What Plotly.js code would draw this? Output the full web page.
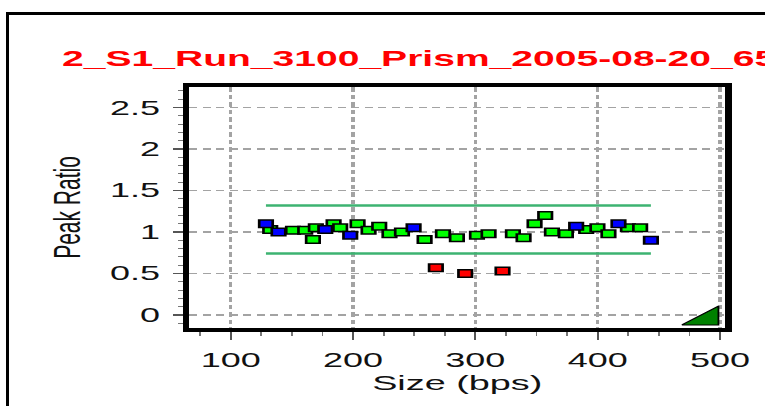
<!DOCTYPE html>
<html>
<head>
<meta charset="utf-8">
<script src="https://cdn.plot.ly/plotly-3.0.1.min.js"></script>
<style>
  html, body { margin: 0; padding: 0; width: 765px; height: 406px; overflow: hidden; background: #ffffff; }
  #frame { position: absolute; left: 6px; top: 12px; width: 900px; height: 600px; border: 3px solid #000; box-sizing: border-box; z-index: 0; }
  #chart { position: absolute; left: 0; top: 0; width: 425px; height: 406px; transform: scaleX(1.8); transform-origin: 0 0; z-index: 1; }
</style>
</head>
<body>
<div id="frame"></div>
<div id="chart"></div>
<script>
// ---- data ----
const chartTitle = "2_S1_Run_3100_Prism_2005-08-20_65";
const xTitle = "Size (bps)";
const yTitle = "Peak Ratio";

const greenSize  = [132.3, 150.9, 160.9, 167.2, 169.6, 184.1, 189.5, 203.7, 212.7, 221.4, 229.8, 240.0, 258.5, 273.5, 284.9, 301.3, 310.8, 330.7, 339.4, 348.4, 357.1, 362.6, 374.0, 390.6, 399.8, 408.8, 424.7, 434.7];
const greenRatio = [1.03, 1.02, 1.02, 0.91, 1.05, 1.10, 1.05, 1.10, 1.02, 1.07, 0.98, 1.00, 0.91, 0.98, 0.93, 0.96, 0.98, 0.98, 0.93, 1.10, 1.20, 1.00, 0.98, 1.03, 1.05, 0.98, 1.05, 1.05];

const blueSize  = [128.8, 139.1, 177.3, 197.7, 249.5, 382.4, 417.0, 443.5];
const blueRatio = [1.10, 1.00, 1.03, 0.96, 1.05, 1.07, 1.10, 0.90];

const redSize  = [267.7, 291.7, 322.2];
const redRatio = [0.57, 0.50, 0.53];

const limitSize  = [128.8, 443.5];
const upperLimit = [1.32, 1.32];
const lowerLimit = [0.74, 0.74];

const triSize  = [468.8, 498.7, 498.7, 468.8];
const triRatio = [-0.12, 0.108, -0.12, -0.12];

const xTickVals = [100, 200, 300, 400, 500];
const yTickVals = [0, 0.5, 1, 1.5, 2, 2.5];

// ---- styles ----
const FONT = "Liberation Sans, Arial, sans-serif";
const markerLine = {color: "#000000", width: 1.5};

const traces = [
  {x: limitSize, y: upperLimit, mode: "lines", line: {color: "#3cb371", width: 2.5}, hoverinfo: "skip"},
  {x: limitSize, y: lowerLimit, mode: "lines", line: {color: "#3cb371", width: 2.5}, hoverinfo: "skip"},
  {x: greenSize, y: greenRatio, mode: "markers", marker: {symbol: "square", size: 7.5, color: "#00ff00", line: markerLine}},
  {x: blueSize, y: blueRatio, mode: "markers", marker: {symbol: "square", size: 7.5, color: "#0000ff", line: markerLine}},
  {x: redSize, y: redRatio, mode: "markers", marker: {symbol: "square", size: 7.5, color: "#ff0000", line: markerLine}},
  {x: triSize, y: triRatio, mode: "lines", fill: "toself", fillcolor: "#008000", line: {color: "#000000", width: 1}, hoverinfo: "skip"}
];

const layout = {
  width: 425, height: 406,
  margin: {l: 104.8, r: 22.1, t: 87, b: 78, pad: 0},
  paper_bgcolor: "rgba(0,0,0,0)",
  plot_bgcolor: "#ffffff",
  showlegend: false,
  font: {family: FONT, color: "#111111", size: 20},
  title: {
    text: chartTitle,
    font: {family: FONT, size: 21.7, color: "#ff0000", weight: 700},
    xref: "container", yref: "container",
    x: 34.5 / 425, xanchor: "left",
    y: 1 - 51 / 406, yanchor: "top"
  },
  xaxis: {
    range: [65.9, 504.4],
    tickmode: "array", tickvals: xTickVals, ticktext: xTickVals.map(String),
    ticks: "outside", ticklen: 8, tickwidth: 1.2, tickcolor: "#555555",
    minor: {dtick: 25, tick0: 0, ticks: "outside", ticklen: 4, tickwidth: 1, tickcolor: "#777777", showgrid: false},
    showgrid: true, gridcolor: "#a3a3a3", gridwidth: 1.8, griddash: "4.5px,3px",
    zeroline: false,
    showline: true, linecolor: "#000000", linewidth: 4, mirror: true,
    tickfont: {family: FONT, size: 20, color: "#111111"},
    ticklabelstandoff: 3,
    title: {text: xTitle, font: {family: FONT, size: 21, color: "#111111"}, standoff: 0}
  },
  yaxis: {
    range: [-0.157, 2.747],
    tickmode: "array", tickvals: yTickVals, ticktext: ["0", "0.5", "1", "1.5", "2", "2.5"],
    ticks: "outside", ticklen: 5.5, tickwidth: 1.2, tickcolor: "#555555",
    minor: {dtick: 0.1, tick0: 0, ticks: "outside", ticklen: 2.5, tickwidth: 1, tickcolor: "#777777", showgrid: false},
    showgrid: true, gridcolor: "#a3a3a3", gridwidth: 1.8, griddash: "4.5px,3px",
    zeroline: false,
    showline: true, linecolor: "#000000", linewidth: 3.6, mirror: true,
    tickfont: {family: FONT, size: 20, color: "#111111"},
    ticklabelstandoff: 3,
    title: {text: yTitle, font: {family: FONT, size: 21, color: "#111111"}, standoff: 11}
  }
};

Plotly.newPlot("chart", traces, layout, {displayModeBar: false, staticPlot: true});
</script>
</body>
</html>
